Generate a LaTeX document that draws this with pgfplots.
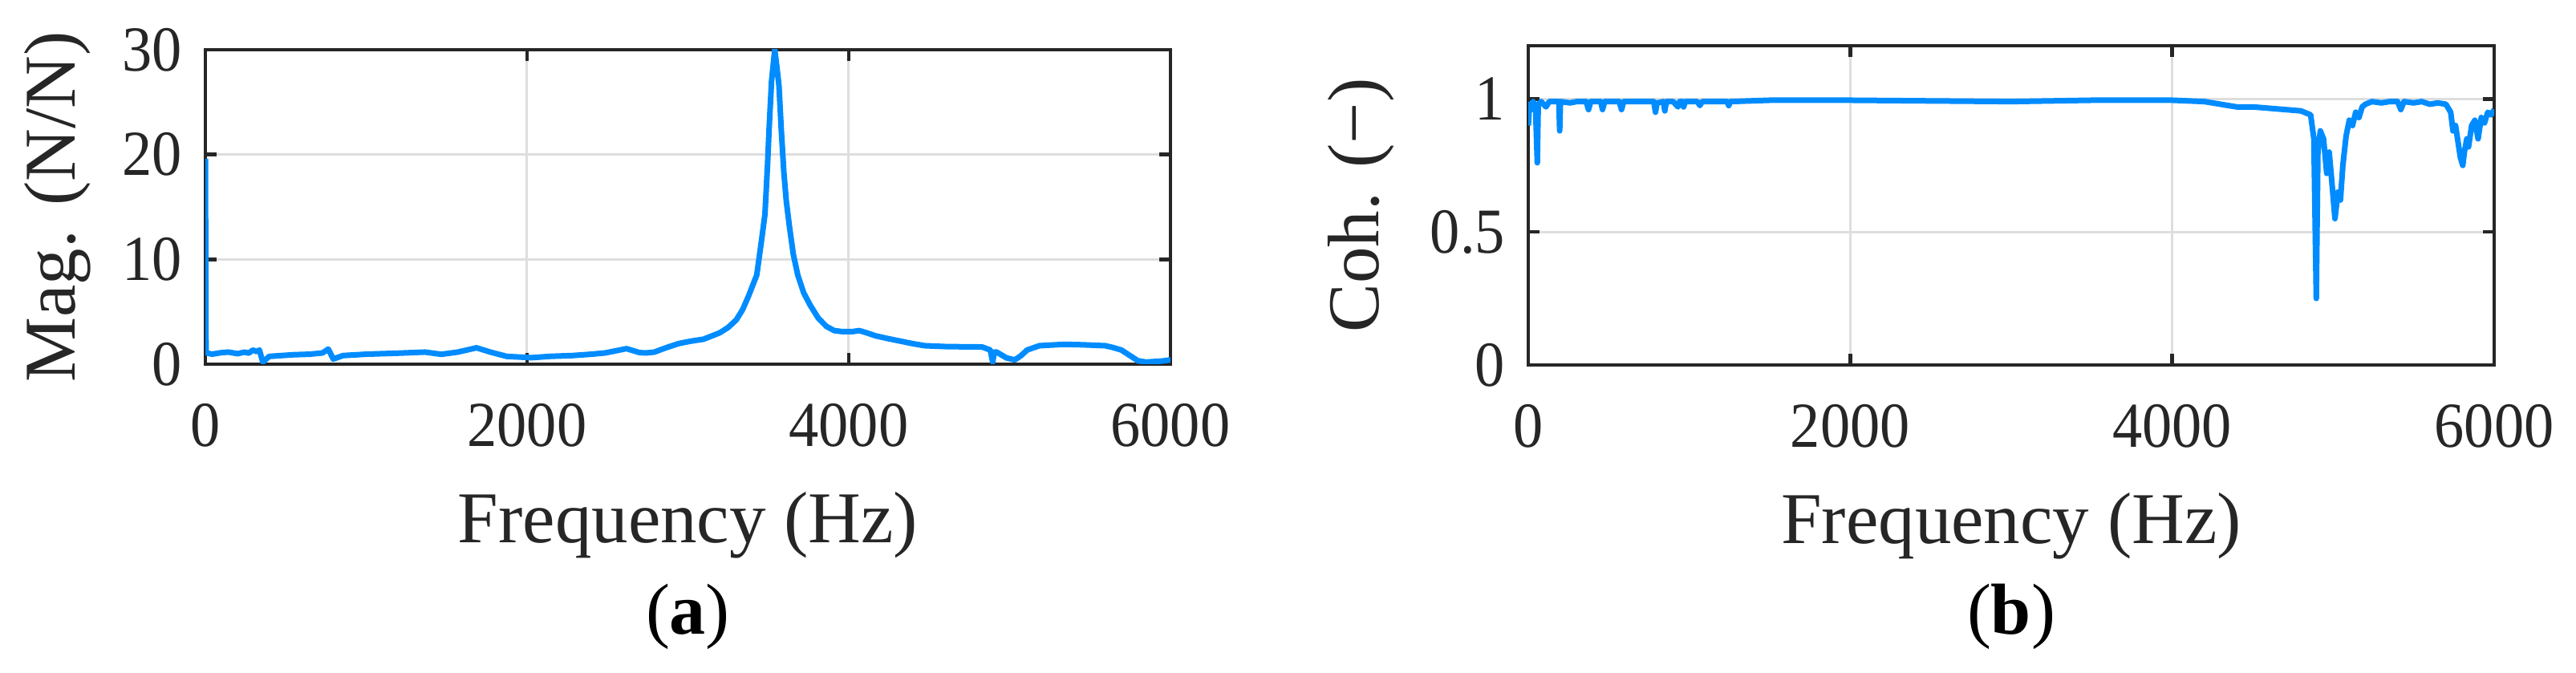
\documentclass[border=0pt]{standalone}
\usepackage{fontspec}
\setmainfont{Liberation Serif}
\newfontfamily\tickfont{Liberation Serif}[FakeStretch=0.93]
\usepackage{pgfplots}
\pgfplotsset{compat=1.18}

\definecolor{mblue}{HTML}{008CFF}
\definecolor{axgray}{HTML}{262626}
\definecolor{gridgray}{HTML}{DEDEDE}

% shared look of both panels (MATLAB-like box axes)
\pgfplotsset{
  frf/.style={
    scale only axis,
    xmin=0, xmax=6000,
    xtick={0,2000,4000,6000},
    xticklabels={0,2000,4000,6000},
    scaled ticks=false,
    grid=major,
    major grid style={gridgray, line width=0.6pt},
    axis line style={axgray, line width=0.9pt},
    tick style={axgray, line width=0.9pt},
    tick align=inside,
    major tick length=2.8pt,
    /pgf/number format/assume math mode=true,
    ticklabel style={font=\tickfont\fontsize{16}{19}\selectfont, text=axgray},
    xticklabel style={yshift=-6.3pt},
    yticklabel style={xshift=-2.3pt},
    label style={font=\fontsize{18.2}{22}\selectfont, text=axgray},
    xlabel={Frequency (Hz)},
    xlabel style={at={(axis description cs:0.5,0)}, anchor=base, yshift=-44.6pt},
  },
  trace/.style={mblue, line width=1.4pt, line join=round, no marks},
}

\begin{document}
\begin{tikzpicture}
\useasboundingbox (0,0) rectangle (642.2pt,167.8pt);

% (a) magnitude
\begin{axis}[frf, name=pa,
  at={(51.2pt,77pt)}, anchor=south west,
  width=240.6pt, height=78.4pt,
  ymin=0, ymax=30,
  ytick={0,10,20,30},
  yticklabels={0,10,20,30},
  ylabel={Mag. (N/N)},
  ylabel style={at={(axis description cs:-0.1355,0.5)}, anchor=base},
]
\addplot[trace] coordinates {
(0,19.6) (4,1.1) (40,0.95) (100,1.1) (143,1.15) (200,1.0) (244,1.15)
(270,1.05) (295,1.35) (320,1.2) (336,1.35) (357,0.2) (397,0.74)
(550,0.9) (650,0.95) (728,1.07) (764,1.44) (795,0.49) (856,0.82)
(1000,0.95) (1200,1.05) (1365,1.15) (1467,0.94) (1569,1.15) (1686,1.56)
(1772,1.15) (1874,0.74) (2027,0.62) (2150,0.75) (2282,0.82) (2400,0.95)
(2485,1.07) (2618,1.48) (2700,1.1) (2740,1.07) (2791,1.15) (2870,1.6)
(2944,1.97) (3020,2.2) (3097,2.38) (3150,2.7) (3199,3.0) (3250,3.5)
(3301,4.23) (3340,5.2) (3377,6.5) (3410,7.8) (3428,8.5) (3455,11.5)
(3479,14.3) (3495,19) (3505,22.5) (3520,27) (3540,30) (3552,28.5)
(3566,26.6) (3580,22.5) (3596,18.4) (3612,15.5) (3632,13.05) (3655,10.5)
(3683,8.5) (3720,6.8) (3759,5.66) (3810,4.4) (3861,3.6) (3910,3.2)
(3963,3.1) (4020,3.1) (4065,3.2) (4110,3.0) (4167,2.7) (4240,2.45)
(4320,2.2) (4400,1.95) (4473,1.76) (4600,1.68) (4700,1.66) (4829,1.64)
(4880,1.35) (4895,0.2) (4905,1.15) (4920,1.15) (4980,0.6) (5032,0.41)
(5070,0.8) (5109,1.35) (5185,1.76) (5338,1.89) (5450,1.85) (5593,1.76)
(5640,1.6) (5695,1.35) (5740,0.9) (5797,0.33) (5848,0.2) (5950,0.3)
(6000,0.41)
};
\end{axis}

% (b) coherence
\begin{axis}[frf, name=pb,
  at={(381pt,76.8pt)}, anchor=south west,
  width=240.8pt, height=79.6pt,
  ymin=0, ymax=1.2,
  ytick={0,0.5,1},
  yticklabels={0,0.5,1},
  ylabel={Coh. (−)},
  ylabel style={at={(axis description cs:-0.1553,0.5)}, anchor=base},
]
\addplot[trace] coordinates {
(0,0.90) (8,0.98) (20,0.96) (30,0.99) (45,0.97) (56,0.76) (62,0.98)
(80,0.99) (110,0.97) (130,0.99) (190,0.99) (195,0.88) (200,0.99)
(260,0.985) (300,0.99) (360,0.99) (374,0.96) (388,0.99) (450,0.99)
(461,0.96) (475,0.99) (565,0.99) (579,0.96) (593,0.99) (700,0.99)
(780,0.99) (790,0.95) (800,0.985) (840,0.99) (848,0.955) (858,0.99)
(900,0.99) (930,0.97) (940,0.99) (960,0.99) (965,0.97) (975,0.99)
(1050,0.99) (1066,0.975) (1080,0.99) (1235,0.99) (1245,0.975) (1255,0.99)
(1500,0.995) (2000,0.995) (3000,0.99) (3500,0.995) (4000,0.995)
(4200,0.99) (4300,0.98) (4400,0.97) (4500,0.97) (4600,0.965) (4700,0.96)
(4800,0.955) (4860,0.94) (4880,0.85) (4895,0.25) (4905,0.80) (4920,0.88)
(4940,0.85) (4960,0.72) (4975,0.80) (4990,0.70) (5011,0.55) (5030,0.65)
(5045,0.62) (5060,0.75) (5080,0.86) (5100,0.92) (5120,0.90) (5140,0.95)
(5160,0.93) (5180,0.97) (5200,0.98) (5241,0.99) (5300,0.985) (5350,0.99)
(5400,0.99) (5420,0.96) (5440,0.99) (5500,0.985) (5550,0.99) (5600,0.98)
(5650,0.985) (5700,0.98) (5730,0.95) (5744,0.88) (5760,0.90) (5790,0.78)
(5805,0.75) (5815,0.80) (5830,0.85) (5841,0.82) (5860,0.90) (5880,0.92)
(5900,0.85) (5920,0.93) (5940,0.91) (5960,0.95) (5980,0.94) (6000,0.96)
};
\end{axis}

% sub-figure captions
\node[anchor=base, font=\fontsize{18}{22}\selectfont]
  at ([yshift=-67.4pt]pa.south) {(\textbf{a})};
\node[anchor=base, font=\fontsize{18}{22}\selectfont]
  at ([yshift=-67.2pt]pb.south) {(\textbf{b})};
\end{tikzpicture}
\end{document}
